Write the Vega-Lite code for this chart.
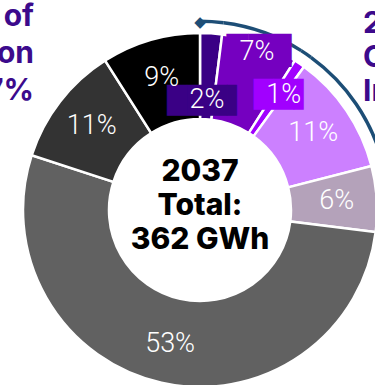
{
  "$schema": "https://vega.github.io/schema/vega-lite/v6.json",
  "width": 350,
  "height": 350,
  "padding": {"left": 25, "top": 35, "right": 0, "bottom": 0},
  "autosize": {"type": "none"},
  "background": "white",
  "config": {"view": {"stroke": null}},
  "datasets": {
    "segments": [
      {"category": "Segment A", "label": "2%", "share": 2, "rank": 1, "group": "bracket"},
      {"category": "Segment B", "label": "7%", "share": 7, "rank": 2, "group": "bracket"},
      {"category": "Segment C", "label": "1%", "share": 1, "rank": 3, "group": "bracket"},
      {"category": "Segment D", "label": "11%", "share": 11, "rank": 4, "group": "bracket"},
      {"category": "Segment E", "label": "6%", "share": 6, "rank": 5, "group": "other"},
      {"category": "Segment F", "label": "53%", "share": 53, "rank": 6, "group": "other"},
      {"category": "Segment G", "label": "11%", "share": 11, "rank": 7, "group": "other"},
      {"category": "Segment H", "label": "9%", "share": 9, "rank": 8, "group": "other"}
    ],
    "center": [{"lines": ["2037", "Total:", "362 GWh"]}],
    "notes": [
      {"side": "left", "lines": ["Renewable share of", "generation", "17%"]},
      {"side": "right", "lines": ["21%", "Clean", "Increase"]}
    ]
  },
  "layer": [
    {
      "data": {"name": "segments"},
      "mark": {"type": "arc", "outerRadius": 177, "innerRadius": 91, "stroke": "white", "strokeWidth": 2.5},
      "encoding": {
        "theta": {"field": "share", "type": "quantitative", "stack": true, "scale": {"domain": [0, 100]}},
        "order": {"field": "rank", "type": "quantitative"},
        "color": {
          "field": "category", "type": "nominal", "legend": null,
          "scale": {
            "domain": ["Segment A", "Segment B", "Segment C", "Segment D", "Segment E", "Segment F", "Segment G", "Segment H"],
            "range": ["#3a0085", "#7500c0", "#a100ff", "#cc80ff", "#b4a2ba", "#616161", "#333333", "#000000"]
          }
        }
      }
    },
    {
      "data": {"name": "segments"},
      "transform": [{"filter": "datum.group == 'bracket'"}],
      "mark": {"type": "arc", "outerRadius": 190.5, "innerRadius": 187, "color": "#1d4e76"},
      "encoding": {
        "theta": {"field": "share", "type": "quantitative", "stack": true, "scale": {"domain": [0, 100]}},
        "order": {"field": "rank", "type": "quantitative"},
        "detail": {"field": "category", "type": "nominal"}
      }
    },
    {
      "data": {"name": "center"},
      "mark": {"type": "text", "radius": 189, "font": "DejaVu Sans", "fontSize": 15, "color": "#1d4e76", "align": "center", "baseline": "middle", "dy": 1},
      "encoding": {
        "theta": {"datum": 0},
        "text": {"value": "◆"}
      }
    },
    {
      "data": {"name": "segments"},
      "mark": {"type": "text", "radius": 110, "font": "DejaVu Sans", "fontSize": 26, "align": "center", "baseline": "middle", "dy": 1},
      "encoding": {
        "theta": {"field": "share", "type": "quantitative", "stack": true, "scale": {"domain": [0, 100]}},
        "order": {"field": "rank", "type": "quantitative"},
        "detail": {"field": "category", "type": "nominal"},
        "color": {"field": "category", "type": "nominal", "legend": null},
        "text": {"condition": {"test": "datum.rank == 1", "value": "███▌"}, "value": ""}
      }
    },
    {
      "data": {"name": "segments"},
      "mark": {"type": "text", "radius": 168, "font": "DejaVu Sans", "fontSize": 28, "align": "center", "baseline": "middle", "dx": 2},
      "encoding": {
        "theta": {"field": "share", "type": "quantitative", "stack": true, "scale": {"domain": [0, 100]}},
        "order": {"field": "rank", "type": "quantitative"},
        "detail": {"field": "category", "type": "nominal"},
        "color": {"field": "category", "type": "nominal", "legend": null},
        "text": {"condition": {"test": "datum.rank == 2", "value": "███"}, "value": ""}
      }
    },
    {
      "data": {"name": "segments"},
      "mark": {"type": "text", "radius": 142, "font": "DejaVu Sans", "fontSize": 26, "align": "center", "baseline": "middle", "dx": 4, "dy": 2},
      "encoding": {
        "theta": {"field": "share", "type": "quantitative", "stack": true, "scale": {"domain": [0, 100]}},
        "order": {"field": "rank", "type": "quantitative"},
        "detail": {"field": "category", "type": "nominal"},
        "color": {"field": "category", "type": "nominal", "legend": null},
        "text": {"condition": {"test": "datum.rank == 3", "value": "██▌"}, "value": ""}
      }
    },
    {
      "data": {"name": "segments"},
      "mark": {"type": "text", "radius": 137, "font": "Roboto", "fontWeight": 300, "fontSize": 27, "color": "white", "align": "center", "baseline": "middle"},
      "encoding": {
        "theta": {"field": "share", "type": "quantitative", "stack": true, "scale": {"domain": [0, 100]}},
        "order": {"field": "rank", "type": "quantitative"},
        "detail": {"field": "category", "type": "nominal"},
        "text": {"condition": {"test": "datum.rank > 3", "field": "label", "type": "nominal"}, "value": ""}
      }
    },
    {
      "data": {"name": "segments"},
      "mark": {"type": "text", "radius": 110, "font": "Roboto", "fontWeight": 300, "fontSize": 27, "color": "white", "align": "center", "baseline": "middle"},
      "encoding": {
        "theta": {"field": "share", "type": "quantitative", "stack": true, "scale": {"domain": [0, 100]}},
        "order": {"field": "rank", "type": "quantitative"},
        "detail": {"field": "category", "type": "nominal"},
        "text": {"condition": {"test": "datum.rank == 1", "field": "label", "type": "nominal"}, "value": ""}
      }
    },
    {
      "data": {"name": "segments"},
      "mark": {"type": "text", "radius": 168, "font": "Roboto", "fontWeight": 300, "fontSize": 27, "color": "white", "align": "center", "baseline": "middle"},
      "encoding": {
        "theta": {"field": "share", "type": "quantitative", "stack": true, "scale": {"domain": [0, 100]}},
        "order": {"field": "rank", "type": "quantitative"},
        "detail": {"field": "category", "type": "nominal"},
        "text": {"condition": {"test": "datum.rank == 2", "field": "label", "type": "nominal"}, "value": ""}
      }
    },
    {
      "data": {"name": "segments"},
      "mark": {"type": "text", "radius": 142, "font": "Roboto", "fontWeight": 300, "fontSize": 27, "color": "white", "align": "center", "baseline": "middle", "dx": 4, "dy": 2},
      "encoding": {
        "theta": {"field": "share", "type": "quantitative", "stack": true, "scale": {"domain": [0, 100]}},
        "order": {"field": "rank", "type": "quantitative"},
        "detail": {"field": "category", "type": "nominal"},
        "text": {"condition": {"test": "datum.rank == 3", "field": "label", "type": "nominal"}, "value": ""}
      }
    },
    {
      "data": {"name": "center"},
      "mark": {"type": "text", "font": "Inter", "fontWeight": 800, "fontSize": 30, "lineHeight": 34, "color": "#000000", "align": "center", "baseline": "middle", "dy": -38},
      "encoding": {
        "text": {"field": "lines", "type": "nominal"}
      }
    },
    {
      "data": {"name": "notes"},
      "transform": [{"filter": "datum.side == 'left'"}],
      "mark": {"type": "text", "font": "Inter", "fontWeight": "bold", "fontSize": 30, "lineHeight": 37, "color": "#3c0a8c", "align": "right", "baseline": "alphabetic", "dx": 9, "dy": -184},
      "encoding": {
        "x": {"field": "side", "type": "nominal", "axis": null, "scale": {"type": "point", "domain": ["left", "right"], "padding": 0}},
        "text": {"field": "lines", "type": "nominal"}
      }
    },
    {
      "data": {"name": "notes"},
      "transform": [{"filter": "datum.side == 'right'"}],
      "mark": {"type": "text", "font": "Inter", "fontWeight": "bold", "fontSize": 30, "lineHeight": 34, "color": "#3c0a8c", "align": "left", "baseline": "alphabetic", "dx": -12, "dy": -177},
      "encoding": {
        "x": {"field": "side", "type": "nominal", "axis": null, "scale": {"type": "point", "domain": ["left", "right"], "padding": 0}},
        "text": {"field": "lines", "type": "nominal"}
      }
    }
  ]
}
